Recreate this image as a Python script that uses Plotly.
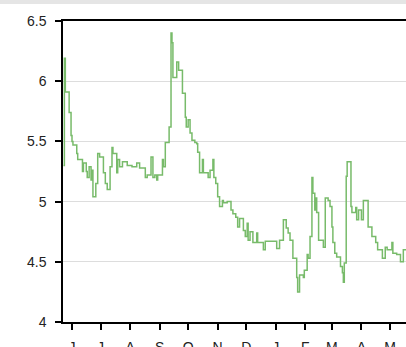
import pandas as pd
import plotly.graph_objects as go

# Days since 2018-06-01 and values
day_offsets = [-9, -8, -7, -3, -1, 0, 1, 5, 6, 11, 12, 15, 16, 18, 20, 21, 22, 25, 27, 29,
               33, 35, 37, 40, 42, 43, 47, 48, 50, 53, 58, 63, 68, 71, 77, 79, 83, 85, 87, 89,
               90, 95, 96, 98, 102, 104, 105, 106, 110, 112, 116, 119, 120, 122, 124, 126, 129, 131, 132, 134,
               137, 138, 143, 145, 148, 149, 151, 153, 155, 158, 159, 163, 167, 169, 172, 174, 176, 180, 182, 184,
               185, 187, 190, 194, 195, 201, 203, 215, 218, 222, 225, 227, 229, 232, 236, 237, 239, 243, 244, 247,
               248, 250, 252, 253, 255, 256, 257, 259, 264, 266, 269, 271, 273, 274, 276, 278, 282, 284, 285, 286,
               288, 289, 293, 294, 298, 299, 301, 304, 306, 311, 315, 319, 321, 326, 329, 331, 336, 337, 341, 345,
               348, 351]
values = [5.30, 6.19, 5.91, 5.74, 5.55, 5.50, 5.47, 5.40, 5.35, 5.25, 5.32, 5.25, 5.20, 5.29, 5.18, 5.26, 5.04, 5.15, 5.40, 5.37,
          5.24, 5.15, 5.10, 5.29, 5.45, 5.40, 5.24, 5.35, 5.29, 5.33, 5.30, 5.29, 5.32, 5.28, 5.20, 5.22, 5.37, 5.20, 5.22, 5.18,
          5.22, 5.35, 5.29, 5.49, 5.62, 6.40, 6.32, 6.03, 6.16, 6.09, 5.90, 5.70, 5.62, 5.68, 5.57, 5.51, 5.49, 5.48, 5.41, 5.24,
          5.35, 5.24, 5.20, 5.26, 5.35, 5.20, 5.15, 5.04, 4.96, 5.01, 4.99, 5.00, 4.93, 4.90, 4.87, 4.79, 4.86, 4.76, 4.71, 4.82,
          4.68, 4.75, 4.66, 4.74, 4.66, 4.60, 4.67, 4.61, 4.68, 4.85, 4.78, 4.74, 4.68, 4.53, 4.37, 4.25, 4.39, 4.37, 4.43, 4.56,
          4.53, 4.71, 5.20, 5.07, 4.93, 5.03, 4.91, 4.68, 4.62, 5.03, 5.01, 4.96, 4.79, 4.66, 4.57, 4.54, 4.46, 4.41, 4.33, 4.49,
          5.21, 5.33, 4.96, 4.91, 4.95, 4.85, 4.93, 4.85, 5.01, 4.79, 4.71, 4.66, 4.60, 4.53, 4.62, 4.60, 4.66, 4.57, 4.56, 4.50,
          4.60, 4.60]

month_ticks = ["2018-06-01", "2018-07-01", "2018-08-01", "2018-09-01", "2018-10-01", "2018-11-01",
               "2018-12-01", "2019-01-01", "2019-02-01", "2019-03-01", "2019-04-01", "2019-05-01"]
month_labels = ["J", "J", "A", "S", "O", "N", "D", "J", "F", "M", "A", "M"]
y_ticks = [4, 4.5, 5, 5.5, 6, 6.5]
y_labels = ["4", "4.5", "5", "5.5", "6", "6.5"]

base = pd.Timestamp("2018-06-01")
dates = [base + pd.Timedelta(days=d) for d in day_offsets]
x_start = base + pd.Timedelta(hours=-9.45 * 24)
x_end = base + pd.Timedelta(hours=350.8 * 24)

fig = go.Figure()
fig.add_trace(go.Scatter(x=dates, y=values, mode="lines", line_shape="hv",
                         line=dict(color="#78bb6a", width=1.5), hoverinfo="skip"))

fig.update_layout(
    width=406, height=347,
    margin=dict(l=63, r=0, t=21, b=25, autoexpand=False),
    paper_bgcolor="white", plot_bgcolor="white",
    showlegend=False,
    font=dict(family="Liberation Sans, Arial, sans-serif", size=14, color="#222222"),
    shapes=[dict(type="rect", xref="paper", yref="paper", x0=-0.2, x1=1.0,
                 y0=1.0565, y1=1.08, fillcolor="#e5e5e5", line=dict(width=0), layer="below")],
)
fig.update_xaxes(
    type="date", range=[x_start, x_end], automargin=False,
    tickvals=month_ticks, ticktext=month_labels,
    ticks="outside", ticklen=6, tickcolor="black", tickwidth=1.5,
    showline=True, linecolor="black", linewidth=1.5, mirror=True,
    showgrid=False, zeroline=False, ticklabelstandoff=5,
)
fig.update_yaxes(
    range=[4, 6.5], tickvals=y_ticks, ticktext=y_labels, automargin=False,
    ticks="outside", ticklen=6, tickcolor="black", tickwidth=1.5,
    showline=True, linecolor="black", linewidth=1.5,
    showgrid=True, gridcolor="#dddddd", gridwidth=1, zeroline=False,
    ticklabelstandoff=6,
)

fig.write_html("out.html", config={"displayModeBar": False},
               post_script="document.body.style.margin='0px';document.body.style.overflow='hidden';")
